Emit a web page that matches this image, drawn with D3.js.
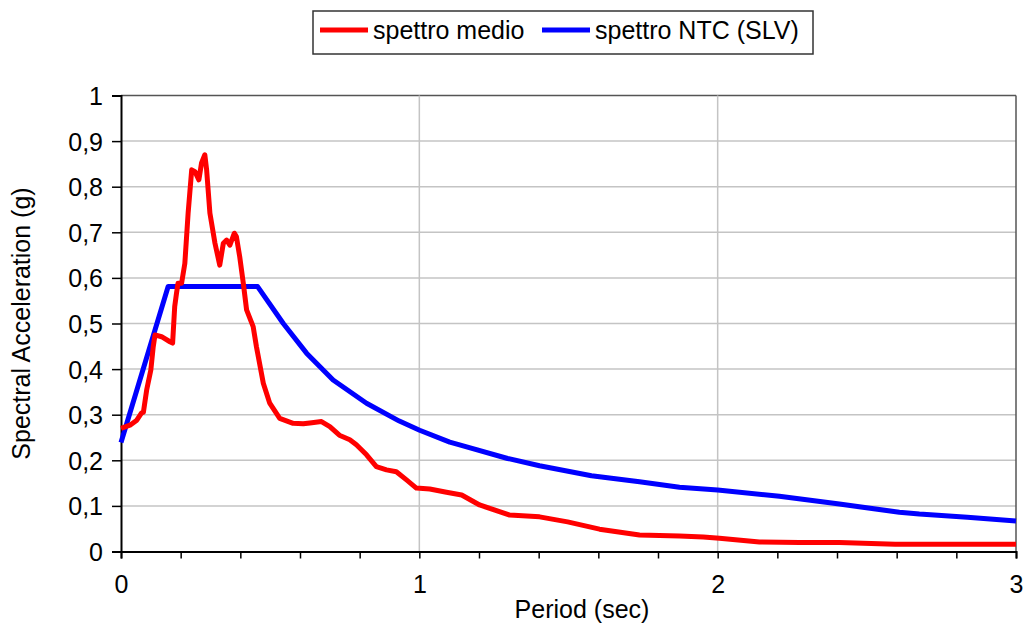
<!DOCTYPE html>
<html>
<head>
<meta charset="utf-8">
<script src="https://cdn.jsdelivr.net/npm/d3@7"></script>
<style>
  body { margin: 0; background: #fff; }
  svg text { font-family: "Liberation Sans", Arial, sans-serif; fill: #000; }
</style>
</head>
<body>
<div id="chart"></div>
<script>
// spettro medio (red)
const periodMedio = [0, 0.03, 0.053, 0.069, 0.075, 0.086, 0.10, 0.108, 0.114, 0.136, 0.164, 0.173, 0.180, 0.186, 0.191, 0.203,
  0.214, 0.225, 0.237, 0.248, 0.261, 0.270, 0.281, 0.287, 0.298, 0.315, 0.331, 0.343, 0.354, 0.365, 0.380, 0.387,
  0.398, 0.410, 0.421, 0.443, 0.454, 0.477, 0.498, 0.532, 0.577, 0.611, 0.633, 0.672, 0.700, 0.732, 0.767, 0.789,
  0.823, 0.856, 0.890, 0.923, 0.957, 0.990, 1.035, 1.091, 1.142, 1.202, 1.303, 1.403, 1.497, 1.604, 1.738, 1.872,
  1.952, 2.006, 2.140, 2.274, 2.408, 2.595, 2.810, 3.0];
const saMedio = [0.270, 0.277, 0.288, 0.304, 0.305, 0.354, 0.398, 0.449, 0.475, 0.471, 0.460, 0.457, 0.537, 0.566, 0.588, 0.588,
  0.632, 0.742, 0.837, 0.833, 0.815, 0.852, 0.870, 0.837, 0.742, 0.676, 0.628, 0.676, 0.683, 0.672, 0.698, 0.690,
  0.646, 0.588, 0.530, 0.493, 0.449, 0.369, 0.326, 0.292, 0.281, 0.280, 0.282, 0.285, 0.274, 0.255, 0.245, 0.234,
  0.212, 0.186, 0.179, 0.175, 0.157, 0.139, 0.137, 0.130, 0.124, 0.102, 0.080, 0.076, 0.065, 0.049, 0.036, 0.034,
  0.032, 0.029, 0.021, 0.020, 0.020, 0.016, 0.016, 0.016];

// spettro NTC (SLV) (blue)
const periodNTC = [0, 0.158, 0.458, 0.544, 0.622, 0.711, 0.823, 0.933, 1.001, 1.102, 1.135, 1.296, 1.403, 1.577, 1.738,
  1.872, 2.0, 2.207, 2.408, 2.609, 2.676, 2.837, 3.0];
const saNTC = [0.239, 0.581, 0.581, 0.500, 0.435, 0.376, 0.325, 0.286, 0.266, 0.240, 0.234, 0.204, 0.188, 0.166, 0.153,
  0.141, 0.135, 0.121, 0.104, 0.086, 0.082, 0.075, 0.067];

const yTicks = [0, 0.1, 0.2, 0.3, 0.4, 0.5, 0.6, 0.7, 0.8, 0.9, 1];
const xMajorTicks = [0, 1, 2, 3];
const xMinorTicks = d3.range(0, 3.001, 0.2);
const seriesNames = ["spettro medio", "spettro NTC (SLV)"];
const seriesColors = ["#ff0000", "#0000ff"];

const width = 1027, height = 628;
const svg = d3.select("#chart").append("svg")
  .attr("width", width)
  .attr("height", height);

// scales
const x = d3.scaleLinear().domain([0, 3]).range([121, 1016]);
const y = d3.scaleLinear().domain([0, 1]).range([551.5, 95.5]);

// horizontal gridlines
svg.append("g")
  .selectAll("line")
  .data(yTicks.slice(1))
  .join("line")
  .attr("x1", x(0)).attr("x2", x(3))
  .attr("y1", d => y(d)).attr("y2", d => y(d))
  .attr("stroke", d => d === 1 ? "#555" : "#c4c4c4")
  .attr("stroke-width", 1.5);

// vertical gridlines
svg.append("g")
  .selectAll("line")
  .data(xMajorTicks.slice(1))
  .join("line")
  .attr("x1", d => x(d)).attr("x2", d => x(d))
  .attr("y1", y(0)).attr("y2", y(1))
  .attr("stroke", d => d === 3 ? "#555" : "#c4c4c4")
  .attr("stroke-width", 1.5);

// Y axis
const yAxis = svg.append("g")
  .attr("transform", `translate(${x(0)},0)`)
  .call(d3.axisLeft(y).tickValues(yTicks).tickSize(9).tickPadding(9)
    .tickFormat(d => d3.format(".1~f")(d).replace(".", ",")));
yAxis.select(".domain").attr("stroke", "#000").attr("stroke-width", 2);
yAxis.selectAll(".tick line").attr("stroke", "#000").attr("stroke-width", 1.5);
yAxis.selectAll("text").style("font-size", "25px").attr("dy", "0.36em");

// X axis (minor ticks every 0.2, labels on integers)
const xAxis = svg.append("g")
  .attr("transform", `translate(0,${y(0)})`)
  .call(d3.axisBottom(x).tickValues(xMinorTicks).tickSize(7).tickPadding(22)
    .tickFormat(d => Math.abs(d - Math.round(d)) < 1e-6 ? d3.format("d")(Math.round(d)) : ""));
xAxis.select(".domain").attr("stroke", "#000").attr("stroke-width", 2);
xAxis.selectAll(".tick line").attr("stroke", "#000").attr("stroke-width", 1.5);
xAxis.selectAll("text").style("font-size", "25px").attr("dy", "0.5em");

// lines
const line = d3.line().x(d => x(d[0])).y(d => y(d[1]));
const medio = periodMedio.map((t, i) => [t, saMedio[i]]);
const ntc = periodNTC.map((t, i) => [t, saNTC[i]]);

svg.append("path")
  .datum(ntc)
  .attr("fill", "none")
  .attr("stroke", seriesColors[1])
  .attr("stroke-width", 5)
  .attr("stroke-linejoin", "round")
  .attr("d", line);

svg.append("path")
  .datum(medio)
  .attr("fill", "none")
  .attr("stroke", seriesColors[0])
  .attr("stroke-width", 5)
  .attr("stroke-linejoin", "round")
  .attr("d", line);

// axis titles
svg.append("text")
  .attr("x", 582)
  .attr("y", 618)
  .attr("text-anchor", "middle")
  .style("font-size", "25px")
  .text("Period (sec)");

svg.append("text")
  .attr("transform", `translate(30,${(y(0) + y(1)) / 2}) rotate(-90)`)
  .attr("text-anchor", "middle")
  .style("font-size", "25px")
  .text("Spectral Acceleration (g)");

// legend
const legend = svg.append("g");
legend.append("rect")
  .attr("x", 313).attr("y", 11)
  .attr("width", 500).attr("height", 43)
  .attr("fill", "#fff")
  .attr("stroke", "#333")
  .attr("stroke-width", 1.5);

const legendX = [320, 542];
seriesNames.forEach((name, i) => {
  legend.append("line")
    .attr("x1", legendX[i]).attr("x2", legendX[i] + 48)
    .attr("y1", 30).attr("y2", 30)
    .attr("stroke", seriesColors[i])
    .attr("stroke-width", 5);
  legend.append("text")
    .attr("x", legendX[i] + 53)
    .attr("y", 39)
    .style("font-size", "25px")
    .text(name);
});
</script>
</body>
</html>
